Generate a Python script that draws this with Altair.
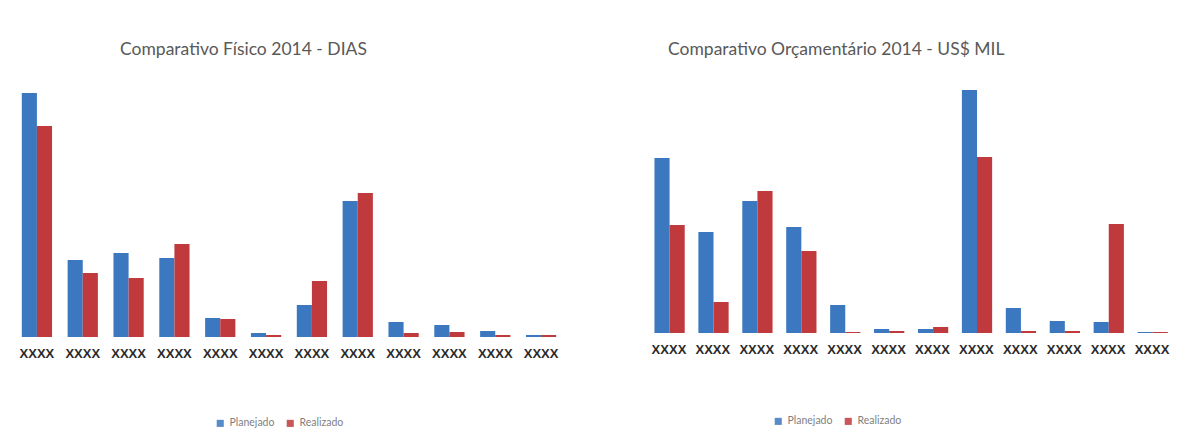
import altair as alt
import pandas as pd

labels = ["XXXX"] * 12
series = ["Planejado", "Realizado"]
colors = ["#3b78c0", "#c0393d"]

fis_plan = [244, 77, 84, 79, 19, 4, 32, 136, 15, 12, 6, 2]
fis_real = [211, 64, 59, 93, 18, 2, 56, 144, 4, 5, 2, 2]
orc_plan = [175, 101, 132, 106, 28, 4, 4, 243, 25, 12, 11, 1]
orc_real = [108, 31, 142, 82, 1, 2, 6, 176, 2, 2, 109, 1]


def frame(plan, real):
    rows = []
    for i, (p, r) in enumerate(zip(plan, real)):
        rows.append({"cat": i + 1, "serie": series[0], "valor": p})
        rows.append({"cat": i + 1, "serie": series[1], "valor": r})
    return pd.DataFrame(rows)


label_expr = "[" + ",".join("'" + l + "'" for l in labels) + "][datum.value - 1]"


def panel(df, title, dx, width, height, ymax, lx, ly):
    return alt.Chart(df).mark_bar().encode(
        x=alt.X(
            "cat:O",
            scale=alt.Scale(paddingInner=0.34, paddingOuter=0.17),
            axis=alt.Axis(
                labelExpr=label_expr,
                labelAngle=0,
                domain=False,
                ticks=False,
                title=None,
                labelFont="Liberation Sans",
                labelFontWeight="bold",
                labelFontSize=13,
                labelColor="#2b2b2b",
                labelPadding=10,
            ),
        ),
        xOffset=alt.XOffset("serie:N", sort=series, scale=alt.Scale(paddingInner=0)),
        y=alt.Y("valor:Q", scale=alt.Scale(domain=[0, ymax], nice=False), axis=None),
        color=alt.Color(
            "serie:N",
            sort=series,
            scale=alt.Scale(domain=series, range=colors),
            legend=alt.Legend(
                title=None,
                orient="none",
                legendX=lx,
                legendY=ly,
                direction="horizontal",
                symbolType="square",
                symbolSize=50,
                labelFont="Lato",
                labelFontSize=10.5,
                labelColor="#7f7f7f",
                columnPadding=10,
                symbolOpacity=0.85,
            ),
        ),
    ).properties(
        width=width,
        height=height,
        title=alt.TitleParams(
            title,
            anchor="start",
            dx=dx,
            font="Lato",
            fontSize=17.5,
            fontWeight="normal",
            color="#595959",
            offset=22,
        ),
    )


left = panel(frame(fis_plan, fis_real), "Comparativo Físico 2014 - DIAS", 106, 550, 257, 257, 201, 338)
right = panel(frame(orc_plan, orc_real), "Comparativo Orçamentário 2014 - US$ MIL", 21, 527, 253, 253, 126, 336)

chart = alt.hconcat(left, right, spacing=83).resolve_scale(
    color="independent", x="independent", y="independent"
).resolve_legend(color="independent").properties(
    padding={"left": 14, "top": 40, "right": 0, "bottom": 0},
    background="white",
).configure_view(stroke=None)

chart.save("out.html", embed_options={"renderer": "svg", "actions": False})
